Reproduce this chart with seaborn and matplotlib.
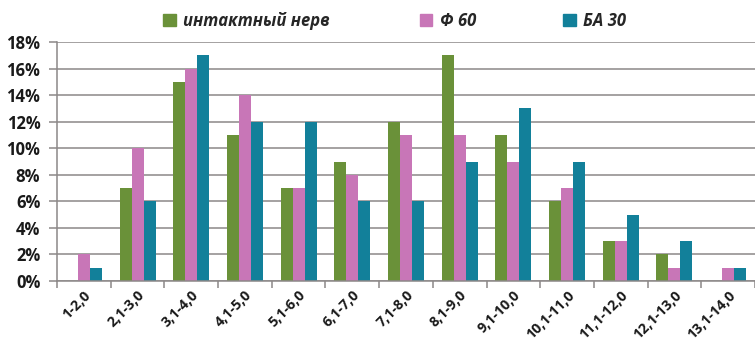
import numpy as np
import pandas as pd
import matplotlib
matplotlib.use("Agg")
import matplotlib.pyplot as plt
import seaborn as sns
from matplotlib.ticker import MultipleLocator, FuncFormatter

# Интервалы и доли (%) для трёх групп
categories = ["1-2,0", "2,1-3,0", "3,1-4,0", "4,1-5,0", "5,1-6,0", "6,1-7,0",
              "7,1-8,0", "8,1-9,0", "9,1-10,0", "10,1-11,0", "11,1-12,0",
              "12,1-13,0", "13,1-14,0"]
intact = [0, 7, 15, 11, 7, 9, 12, 17, 11, 6, 3, 2, 0]
phi60 = [2, 10, 16, 14, 7, 8, 11, 11, 9, 7, 3, 1, 1]
ba30 = [1, 6, 17, 12, 12, 6, 6, 9, 13, 9, 5, 3, 1]
series_names = ["интактный нерв", "Ф 60", "БА 30"]
colors = ["#6a9139", "#c876b7", "#12809a"]

df = pd.DataFrame({
    "interval": categories * 3,
    "value": intact + phi60 + ba30,
    "group": [series_names[0]] * len(categories)
             + [series_names[1]] * len(categories)
             + [series_names[2]] * len(categories),
})

sns.set_theme(style="white")
FONT = ["Open Sans", "DejaVu Sans"]
plt.rcParams["font.family"] = FONT

fig = plt.figure(figsize=(7.55, 3.45), dpi=100)
ax = fig.add_axes([57 / 755, 1 - 281 / 345, 698 / 755, 239 / 345])

sns.barplot(data=df, x="interval", y="value", hue="group",
            hue_order=series_names, palette=colors, width=0.67, gap=0,
            saturation=1, errorbar=None, linewidth=0, ax=ax, legend=True)

ax.set_xlim(-0.5, len(categories) - 0.5)
ax.set_ylim(0, 18)
ax.yaxis.set_major_locator(MultipleLocator(2))
ax.yaxis.set_major_formatter(FuncFormatter(lambda v, _: f"{v:.0f}%"))
ax.grid(axis="y", color="#8c8888", linewidth=1.1)
ax.set_axisbelow(True)
ax.set_xlabel("")
ax.set_ylabel("")

for side in ("top", "right"):
    ax.spines[side].set_visible(False)
for side in ("left", "bottom"):
    ax.spines[side].set_visible(True)
    ax.spines[side].set_color("#8c8888")
    ax.spines[side].set_linewidth(1.1)

# Деления по границам интервалов
ax.set_xticks(np.arange(len(categories)))
ax.set_xticklabels(categories, rotation=45, ha="right",
                   rotation_mode="anchor", fontsize=10.3, fontweight="bold",
                   color="#1a1a1a")
ax.tick_params(axis="x", length=0, pad=5)
ax.set_xticks(np.arange(len(categories) + 1) - 0.5, minor=True)
ax.tick_params(axis="x", which="minor", length=5, width=1.1,
               color="#8c8888", bottom=True)
ax.tick_params(axis="y", length=6, width=1.1, color="#8c8888", left=True,
               labelsize=12, pad=6)
for lbl in ax.get_yticklabels():
    lbl.set_fontweight("bold")
    lbl.set_color("#1a1a1a")

# Легенда: каждый элемент размещён отдельно над графиком
ax.legend_.remove()
legend_left = [163, 420, 563]
for name, color, left in zip(series_names, colors, legend_left):
    fig.legend([plt.Rectangle((0, 0), 1, 1, color=color)], [name],
               loc="center left", bbox_to_anchor=(left / 755, 1 - 21 / 345),
               frameon=False, borderaxespad=0, borderpad=0,
               handlelength=0.75, handleheight=0.75, handletextpad=0.45,
               prop={"family": FONT, "weight": "bold",
                     "style": "italic", "size": 12})

fig.savefig("out.png", dpi=100)
